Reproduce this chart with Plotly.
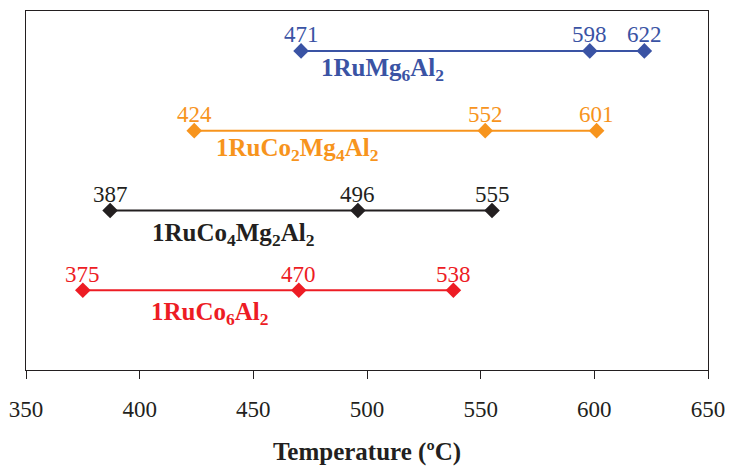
import plotly.graph_objects as go

samples = ["1RuMg<sub>6</sub>Al<sub>2</sub>", "1RuCo<sub>2</sub>Mg<sub>4</sub>Al<sub>2</sub>",
           "1RuCo<sub>4</sub>Mg<sub>2</sub>Al<sub>2</sub>", "1RuCo<sub>6</sub>Al<sub>2</sub>"]
temps_ru_mg = [471, 598, 622]
temps_ru_co2 = [424, 552, 601]
temps_ru_co4 = [387, 496, 555]
temps_ru_co6 = [375, 470, 538]
x_ticks = [350, 400, 450, 500, 550, 600, 650]

series = [temps_ru_mg, temps_ru_co2, temps_ru_co4, temps_ru_co6]
rows = [4, 3, 2, 1]
colors = ["#3A53A4", "#F7941D", "#231F20", "#ED1C24"]
name_x = [507, 469, 441, 431]
name_shift = [-19, -19, -24, -23]

FONT = "Liberation Serif"

fig = go.Figure()
annotations = []
for name, vals, row, col, nx, ns in zip(samples, series, rows, colors, name_x, name_shift):
    fig.add_trace(go.Scatter(
        x=vals, y=[row] * len(vals), mode="lines+markers",
        line=dict(color=col, width=2),
        marker=dict(symbol="diamond", size=12, color=col),
        showlegend=False, hoverinfo="x",
    ))
    for v in vals:
        annotations.append(dict(x=v, y=row, xref="x", yref="y", text=str(v),
                                showarrow=False, yshift=16,
                                font=dict(family=FONT, size=23, color=col)))
    annotations.append(dict(x=nx, y=row, xref="x", yref="y", text="<b>" + name + "</b>",
                            showarrow=False, yshift=ns,
                            font=dict(family=FONT, size=25, color=col)))

fig.update_layout(
    width=729, height=466,
    margin=dict(l=26, r=21, t=11, b=96, autoexpand=False),
    paper_bgcolor="white", plot_bgcolor="white",
    font=dict(family=FONT, size=20, color="#231F20"),
    annotations=annotations,
    xaxis=dict(range=[350, 650], tickvals=x_ticks, ticks="outside", ticklen=8,
               tickcolor="#231F20", showline=True, linecolor="#231F20", linewidth=1.3,
               mirror=True, showgrid=False, zeroline=False, automargin=False,
               ticklabelstandoff=10,
               tickfont=dict(family=FONT, size=23, color="#231F20"),
               title=dict(text="<b>Temperature (ºC)</b>", standoff=22,
                          font=dict(family=FONT, size=25, color="#231F20"))),
    yaxis=dict(range=[0, 4.5], showticklabels=False, ticks="", showgrid=False,
               zeroline=False, showline=True, linecolor="#231F20", linewidth=1.3,
               mirror=True, fixedrange=True, automargin=False),
)

fig.write_html("out.html", config={"displayModeBar": False},
               post_script="document.body.style.margin='0';document.body.style.overflow='hidden';")
